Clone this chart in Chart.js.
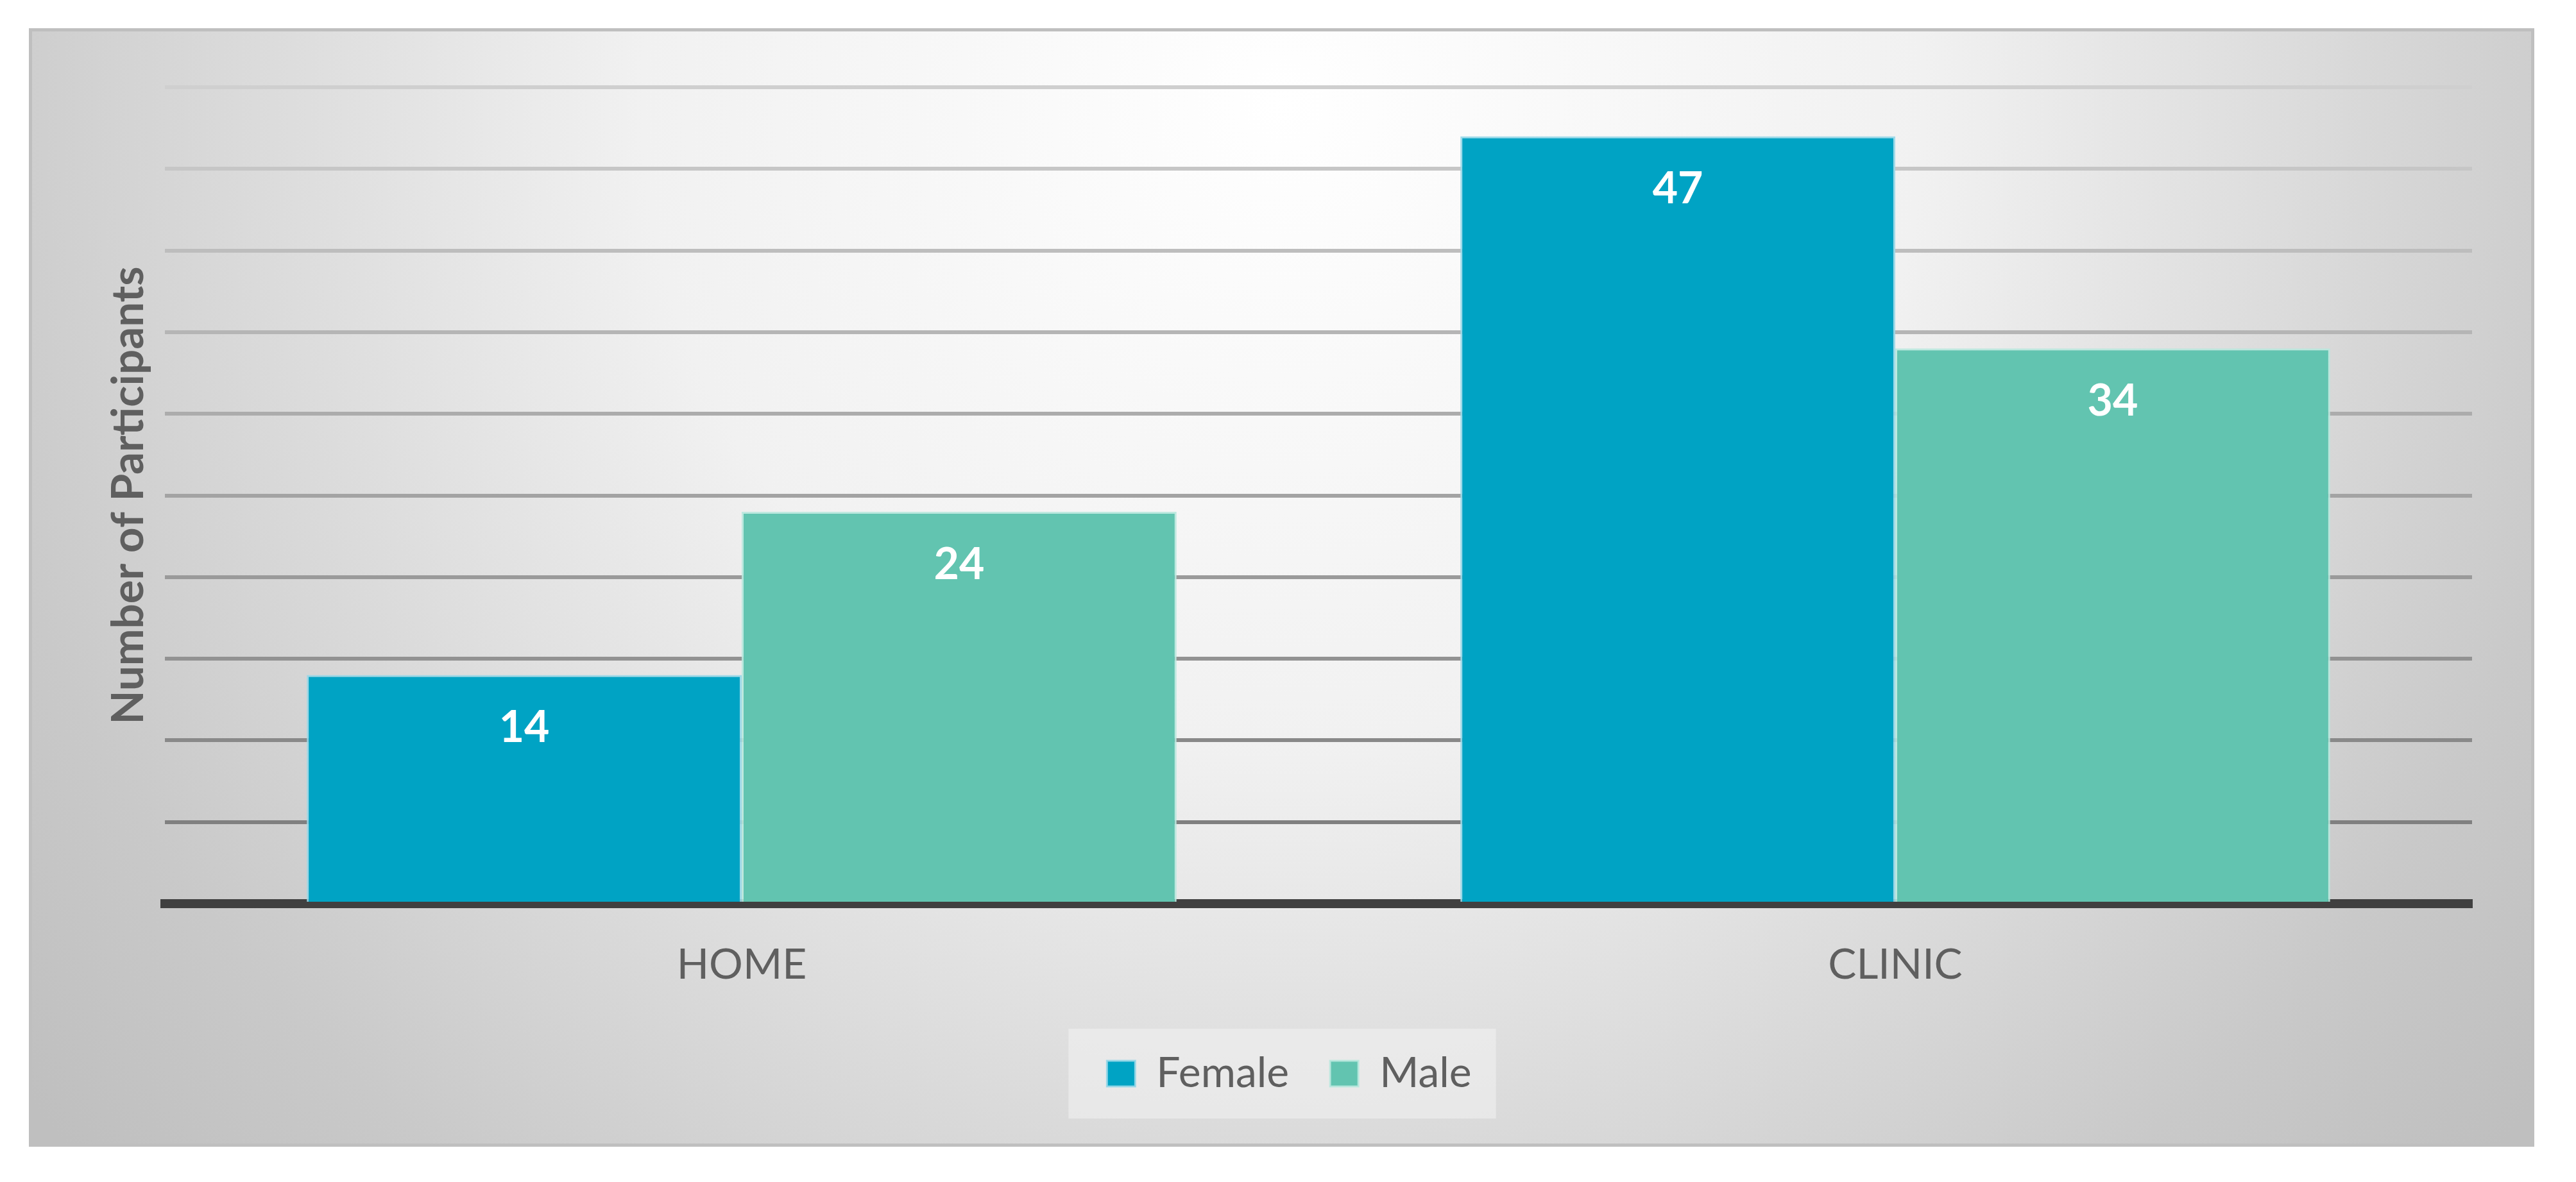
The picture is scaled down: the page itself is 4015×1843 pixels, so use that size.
<!DOCTYPE html>
<html>
<head>
<meta charset="utf-8">
<script src="https://cdn.jsdelivr.net/npm/chart.js@4.4.1/dist/chart.umd.min.js"></script>
<style>
  html, body { margin: 0; padding: 0; background: #fff; }
  #panel {
    position: absolute; left: 45px; top: 44px;
    width: 3895px; height: 1734px;
    border: 5px solid #bfbfbf;
    background: radial-gradient(circle at 1950px 110px, #ffffff 0px, #f1f1f1 1000px, #e3e3e3 1380px, #c9c9c9 2100px, #bfbfbf 2500px);
  }
  canvas { display: block; }
</style>
</head>
<body>
<div id="panel"><canvas id="c" width="3895" height="1734"></canvas></div>
<script>
// datos del gráfico
const categories = ['HOME', 'CLINIC'];
const seriesNames = ['Female', 'Male'];
const femaleValues = [14, 47];
const maleValues = [24, 34];
const yMax = 50;
const yStep = 5;

const FEMALE = '#00a3c4';
const MALE = '#62c4b0';
const TEXT = '#5f5f5f';

// gris de las líneas de grilla: más claro arriba, más oscuro abajo
function gridGray(v) {
  const g = Math.round(128 + (v - yStep) * 1.75);
  return 'rgb(' + g + ',' + g + ',' + g + ')';
}

// recuadro claro detrás de la leyenda
const legendBg = {
  id: 'legendBg',
  beforeDraw(chart) {
    const lg = chart.legend;
    if (!lg || !lg.legendHitBoxes || !lg.legendHitBoxes.length) return;
    const hb = lg.legendHitBoxes;
    const first = hb[0], last = hb[hb.length - 1];
    const cy = first.top + first.height / 2;
    const ctx = chart.ctx;
    ctx.save();
    ctx.fillStyle = 'rgba(242,242,242,0.55)';
    ctx.fillRect(first.left - 60, cy - 70, (last.left + last.width + 38) - (first.left - 60), 140);
    ctx.restore();
  }
};

// etiquetas de valor dentro de cada barra
const barLabels = {
  id: 'barLabels',
  afterDatasetsDraw(chart) {
    const ctx = chart.ctx;
    ctx.save();
    ctx.fillStyle = '#ffffff';
    ctx.font = 'bold 68px Lato';
    ctx.textAlign = 'center';
    ctx.textBaseline = 'middle';
    chart.data.datasets.forEach((ds, i) => {
      chart.getDatasetMeta(i).data.forEach((bar, j) => {
        ctx.fillText(String(ds.data[j]), bar.x, bar.y + 83);
      });
    });
    ctx.restore();
  }
};

Chart.defaults.font.family = 'Lato';
Chart.defaults.color = TEXT;

new Chart(document.getElementById('c'), {
  type: 'bar',
  data: {
    labels: categories,
    datasets: [
      { label: seriesNames[0], data: femaleValues, backgroundColor: FEMALE, borderColor: 'rgba(150,215,232,0.9)', borderWidth: 3 },
      { label: seriesNames[1], data: maleValues, backgroundColor: MALE, borderColor: 'rgba(185,232,222,0.9)', borderWidth: 3 },
    ],
  },
  options: {
    responsive: false,
    animation: false,
    events: [],
    categoryPercentage: 0.754,
    barPercentage: 1.0,
    layout: { padding: { left: 24, top: 87, right: 0, bottom: 66 } },
    plugins: {
      tooltip: { enabled: false },
      legend: {
        position: 'bottom',
        labels: { boxWidth: 44, boxHeight: 40, padding: 64, font: { size: 66 }, color: TEXT },
      },
    },
    scales: {
      x: {
        grid: { display: false },
        border: { display: true, color: '#404040', width: 14 },
        ticks: { font: { size: 66 }, color: TEXT, padding: 48 },
        afterFit: (s) => { s.height = 168; },
      },
      y: {
        min: 0,
        max: yMax,
        ticks: { display: false, stepSize: yStep },
        border: { display: false },
        grid: {
          drawTicks: false,
          lineWidth: 6,
          color: (c) => gridGray(c.tick.value),
        },
        title: {
          display: true,
          text: 'Number of Participants',
          font: { size: 69, weight: 'bold' },
          color: TEXT,
          padding: { top: 85, bottom: 0 },
        },
        afterFit: (s) => { s.width = 183; },
      },
      y2: {
        position: 'right',
        min: 0,
        max: yMax,
        ticks: { display: false },
        grid: { display: false },
        border: { display: false },
        afterFit: (s) => { s.width = 92; },
      },
    },
  },
  plugins: [legendBg, barLabels],
});
</script>
</body>
</html>
